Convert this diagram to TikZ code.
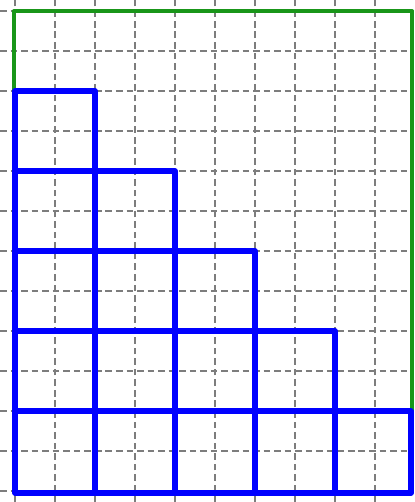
\documentclass[tikz,border=0pt]{standalone}
\begin{document}
\begin{tikzpicture}[
  gridline/.style={draw={rgb,255:red,125;green,125;blue,125}, line width=0.9pt, dash pattern=on 4.7pt off 2.8pt},
  blueline/.style={draw={rgb,255:red,0;green,0;blue,255}, line width=4pt, line cap=round, line join=round},
  greenline/.style={draw={rgb,255:red,25;green,150;blue,25}, line width=3pt, line cap=round, line join=round}
]
\useasboundingbox (-0.375,-0.275) rectangle (9.975,12.275);
\fill[white] (-0.375,-0.275) rectangle (9.975,12.275);
% grid
\foreach \x in {0,...,9} \draw[gridline] (\x,-0.275) -- (\x,12.275);
\foreach \y in {0,...,12} \draw[gridline] (-0.375,\y) -- (9.975,\y);
% named corners
\coordinate (g0) at (-0.02,10);
\coordinate (g1) at (-0.02,12);
\coordinate (g2) at (9.92,12);
\coordinate (g3) at (9.92,2);
% green outline
\draw[greenline] (g0) -- (g1) -- (g2) -- (g3);
% blue staircase of squares
\draw[blueline] (0,10) rectangle (2,8);
\draw[blueline] (0,8) rectangle (2,6);
\draw[blueline] (2,8) rectangle (4,6);
\foreach \i in {0,1,2} \draw[blueline] (2*\i,6) rectangle (2*\i+2,4);
\foreach \i in {0,1,2,3} \draw[blueline] (2*\i,4) rectangle (2*\i+2,2);
\foreach \i in {0,1,2,3} \draw[blueline] (2*\i,2) rectangle (2*\i+2,-0.05);
\draw[blueline] (8,2) rectangle (9.9,-0.05);
\end{tikzpicture}
\end{document}
